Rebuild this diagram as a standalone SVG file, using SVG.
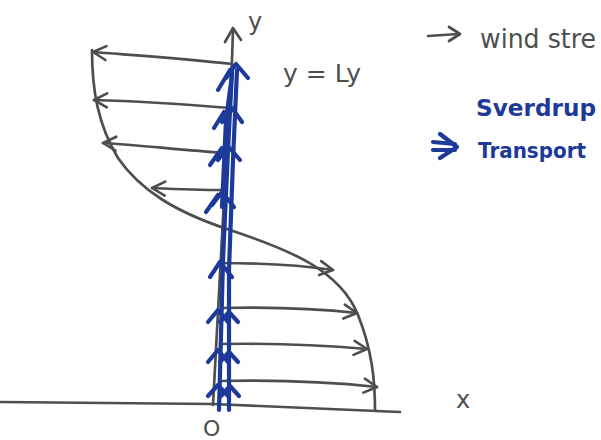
<svg xmlns="http://www.w3.org/2000/svg" width="601" height="440" viewBox="0 0 601 440">
<style>
.pen{fill:none;stroke:#4d4f4f;stroke-width:2.7;stroke-linecap:round;stroke-linejoin:round}
.ink{fill:none;stroke:#1d3a9a;stroke-width:4.2;stroke-linecap:round;stroke-linejoin:round}
.gt{font-family:"DejaVu Sans",sans-serif;fill:#4d4f4f}
.bt{font-family:"DejaVu Sans",sans-serif;fill:#1d3a9a;font-weight:bold}
</style>
<defs>
<marker id="ah" viewBox="0 0 20 20" refX="17" refY="10" markerWidth="20" markerHeight="20" markerUnits="userSpaceOnUse" orient="auto">
<path d="M4,3 L17,10 L4,17" fill="none" stroke="#4d4f4f" stroke-width="2.6" stroke-linecap="round" stroke-linejoin="round"/>
</marker>
</defs>
<rect width="601" height="440" fill="#ffffff"/>
<g id="axes">
<path class="pen" d="M0,402 L213,404 L400,412"/>
<path class="pen" d="M213,405 L224,200 L232,60 L233,30"/>
<path class="pen" d="M225,42 L233,28 L241,40"/>
</g>
<g id="curve">
<path class="pen" d="M92,50 C92,90 98,125 118,158 C140,190 175,212 230,230 C290,250 340,270 358,315 C372,350 375,380 375,410"/>
</g>
<g id="connectors">
<path class="pen" marker-end="url(#ah)" d="M232,64 C180,58 130,55 93,52"/>
<path class="pen" marker-end="url(#ah)" d="M230,108 C180,104 130,101 94,100"/>
<path class="pen" marker-end="url(#ah)" d="M225,153 C180,150 140,145 103,143"/>
<path class="pen" marker-end="url(#ah)" d="M222,190 C200,190 175,189 152,188"/>
<path class="pen" marker-end="url(#ah)" d="M220,263 C260,263 300,265 333,270"/>
<path class="pen" marker-end="url(#ah)" d="M222,308 C270,307 320,309 357,313"/>
<path class="pen" marker-end="url(#ah)" d="M220,344 C270,343 320,345 367,349"/>
<path class="pen" marker-end="url(#ah)" d="M220,381 C270,380 330,382 377,387"/>
</g>
<g id="sverdrup-column">
<path class="ink" d="M219,410 L223,260 L228,150 L232,72"/>
<path class="ink" d="M229,410 L229,270 L233,160 L237,70"/>
<path class="ink" d="M222,207 L226,120 L232,75"/>
<path class="ink" d="M226,78 L236,64 L248,78"/>
<path class="ink" d="M218,90 L230,70"/>
<path class="ink" d="M222,122 L232,108 L242,122"/>
<path class="ink" d="M214,128 L224,112"/>
<path class="ink" d="M218,160 L228,146 L240,160"/>
<path class="ink" d="M210,165 L222,148"/>
<path class="ink" d="M212,205 L222,192 L234,207"/>
<path class="ink" d="M206,212 L218,195"/>
<path class="ink" d="M210,277 L220,262 L232,277"/>
<path class="ink" d="M208,322 L218,310 L228,322"/>
<path class="ink" d="M220,322 L229,312 L238,322"/>
<path class="ink" d="M208,362 L218,350 L228,362"/>
<path class="ink" d="M220,362 L229,352 L238,362"/>
<path class="ink" d="M208,396 L218,385 L228,396"/>
<path class="ink" d="M221,396 L230,386 L239,396"/>
</g>
<g id="labels">
<text class="gt" x="248" y="30" font-size="24">y</text>
<text class="gt" x="283" y="82" font-size="25">y = Ly</text>
<text class="gt" x="456" y="408" font-size="24">x</text>
<text class="gt" x="203" y="436" font-size="22">O</text>
</g>
<g id="legend-wind">
<path class="pen" d="M428,36 L458,34"/>
<path class="pen" d="M449,27 L460,34 L449,41"/>
<text class="gt" x="480" y="48" font-size="26" textLength="116" lengthAdjust="spacingAndGlyphs">wind stre</text>
</g>
<g id="legend-sverdrup">
<text class="bt" x="476" y="116" font-size="23" textLength="120" lengthAdjust="spacingAndGlyphs">Sverdrup</text>
<path class="ink" d="M433,142 L455,144 M433,150 L455,150"/>
<path class="ink" d="M440,134 L457,147 L440,158"/>
<text class="bt" x="478" y="158" font-size="22" textLength="108" lengthAdjust="spacingAndGlyphs">Transport</text>
</g>
</svg>
